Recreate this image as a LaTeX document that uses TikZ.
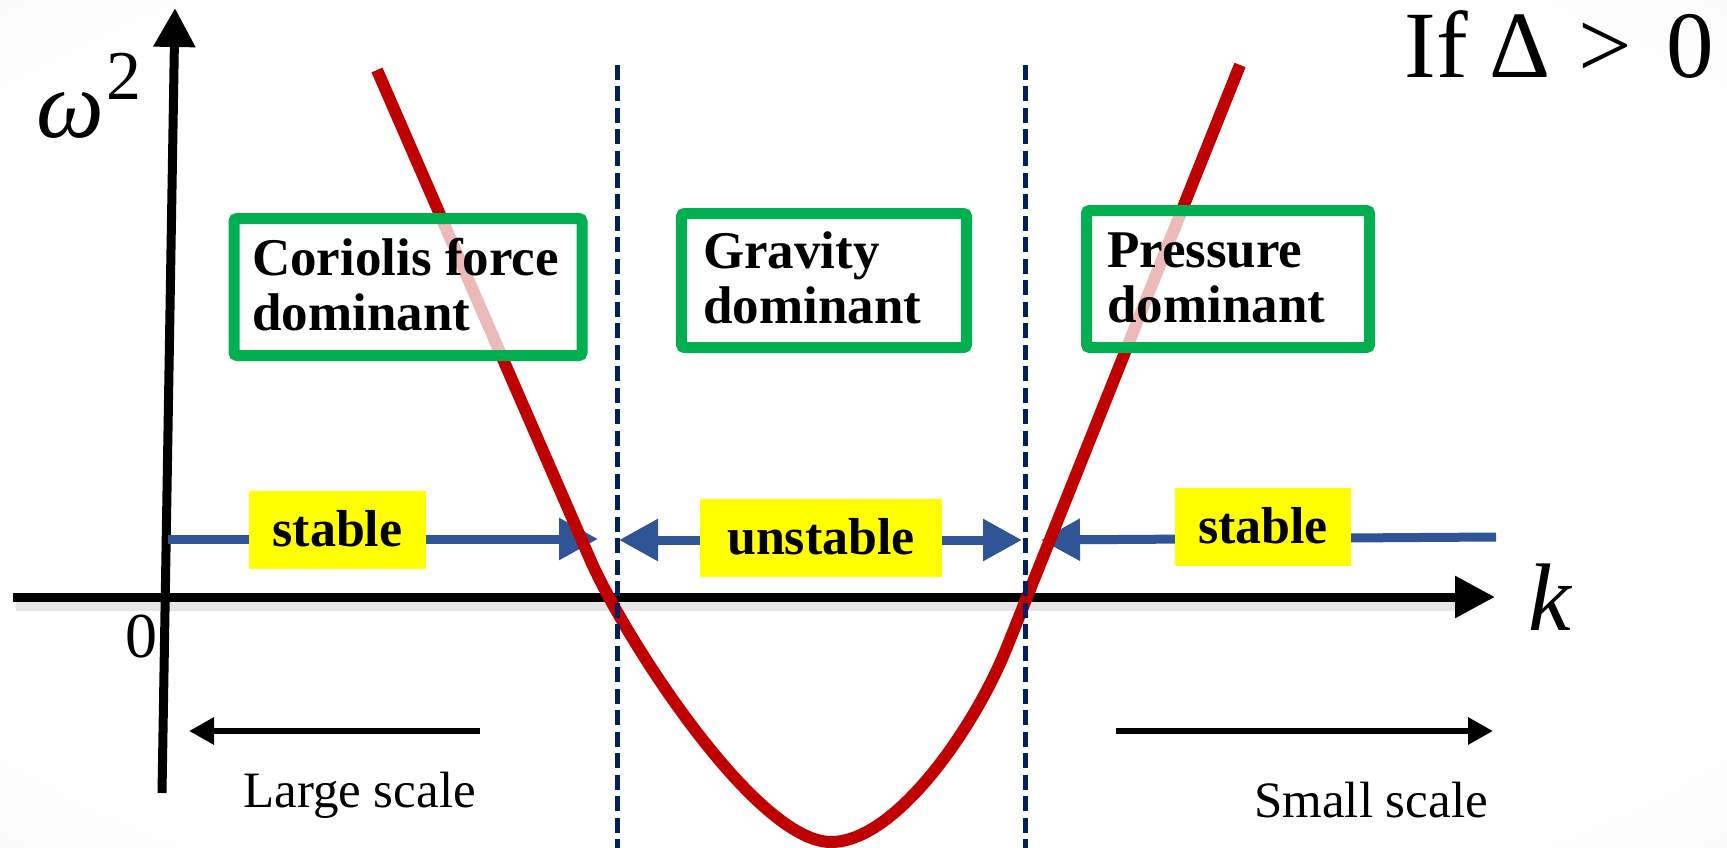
\documentclass[tikz,border=0pt]{standalone}
\usepackage{fontspec}
\setmainfont{Liberation Serif}
\usetikzlibrary{arrows.meta}
\definecolor{boxgreen}{RGB}{0,176,80}
\definecolor{curvered}{RGB}{192,0,0}
\definecolor{navyline}{RGB}{0,32,96}
\definecolor{arrowblue}{RGB}{47,85,151}
\definecolor{hlyellow}{RGB}{255,255,0}
\pgfdeclareradialshading{vign}{\pgfpoint{0bp}{0bp}}{color(0bp)=(white); color(30bp)=(white); color(50bp)=(black!6); color(71bp)=(black!15)}
\tikzset{bluetip/.tip={Triangle[length=39pt,width=40pt]}}
\begin{document}
\begin{tikzpicture}[x=1pt,y=-1pt,
  axisline/.style={line width=9pt, black},
  bluearrow/.style={line width=9pt, arrowblue},
  gbox/.style={draw=boxgreen, line width=11pt, fill=white, fill opacity=0.73, rounded corners=3pt, inner sep=0pt},
  ybox/.style={fill=hlyellow, inner sep=0pt},
  btxt/.style={font=\fontsize{53}{58}\selectfont\bfseries, inner sep=0pt, anchor=base west},
  ytxt/.style={font=\fontsize{52}{56}\selectfont\bfseries, inner sep=0pt, anchor=base},
  divline/.style={navyline, line width=5pt, dash pattern=on 15pt off 6.5pt},
  scalearrow/.style={line width=6pt, black, -{Triangle[length=25pt,width=26pt]}},
  lbl/.style={inner sep=0pt}]
\shade[shading=vign] (0,0) rectangle (1727,848);
\useasboundingbox (0,0) rectangle (1727,848);
% axes
\coordinate (hs) at (13,597);
\coordinate (he) at (1495,597);
\coordinate (vs) at (162,793);
\coordinate (ve) at (175,8);
\draw[line width=10pt, black, opacity=0.10] (16,606) -- (1470,606);
\draw[axisline, -{Triangle[length=40pt,width=40pt]}] (hs) -- (he);
\draw[axisline, -{Triangle[length=39pt,width=40pt]}] (vs) -- (ve);
% blue arrows
\coordinate (b1s) at (168,539);
\coordinate (b1e) at (598,539);
\coordinate (b2s) at (619,540);
\coordinate (b2e) at (1022,540);
\coordinate (b3s) at (1041,540);
\coordinate (b3e) at (1496,537);
\draw[bluearrow, -bluetip] (b1s) -- (b1e);
\draw[bluearrow, bluetip-bluetip] (b2s) -- (b2e);
\draw[bluearrow, bluetip-] (b3s) -- (b3e);
% yellow labels
\node[ybox, minimum width=177pt, minimum height=78pt] (y1) at (337.5,530) {};
\node[ybox, minimum width=242pt, minimum height=78pt] (y2) at (821,538) {};
\node[ybox, minimum width=176pt, minimum height=78pt] (y3) at (1263,527) {};
\node[ytxt] (t1) at (337.5,546) {stable};
\node[ytxt] (t2) at (821,554) {unstable};
\node[ytxt] (t3) at (1263,543) {stable};
% red curve
\draw[curvered, line width=12pt] (377,70) -- (590,559)
  .. controls (624.9,639) and (756,842) .. (831,842)
  .. controls (896,842) and (975,727) .. (1007,647) -- (1240,65);
% dashed division lines
\coordinate (d1t) at (617,65);
\coordinate (d1b) at (617,848);
\coordinate (d2t) at (1025,65);
\coordinate (d2b) at (1025,848);
\draw[divline] (d1t) -- (d1b);
\draw[divline] (d2t) -- (d2b);
% green boxes
\node[gbox, minimum width=348pt, minimum height=137pt] (g1) at (408,287) {};
\node[gbox, minimum width=285pt, minimum height=134pt] (g2) at (824,280.5) {};
\node[gbox, minimum width=283pt, minimum height=137pt] (g3) at (1228,279) {};
\node[btxt] (g1a) at (252,275) {Coriolis force};
\node[btxt] (g1b) at (252,330) {dominant};
\node[btxt] (g2a) at (703,268) {Gravity};
\node[btxt] (g2b) at (703,323) {dominant};
\node[btxt] (g3a) at (1107,267) {Pressure};
\node[btxt] (g3b) at (1107,322) {dominant};
% scale arrows
\coordinate (ls) at (480,731);
\coordinate (le) at (189,731);
\coordinate (ss) at (1116,731);
\coordinate (se) at (1493,731);
\draw[scalearrow] (ls) -- (le);
\draw[scalearrow] (ss) -- (se);
\node[lbl, anchor=base west, font=\fontsize{51}{56}\selectfont] (large) at (243,807) {Large scale};
\node[lbl, anchor=base west, font=\fontsize{51}{56}\selectfont] (small) at (1254,817) {Small scale};
% axis labels
\node[lbl, anchor=base east, font=\fontsize{64}{70}\selectfont] (zero) at (158,657) {0};
\node[lbl, anchor=base west, font=\fontsize{96}{100}\selectfont] (omega) at (36,138) {\itshape ω\hspace{3pt}\raisebox{0.4em}{\upshape\fontsize{70}{70}\selectfont 2}};
\node[lbl, anchor=base west, font=\fontsize{96}{100}\selectfont] (kay) at (1528,630) {\itshape k};
\node[lbl, anchor=base east, font=\fontsize{95}{100}\selectfont] (cond) at (1714,78) {If\hspace{22pt}Δ\hspace{28pt}>\hspace{34pt}0};
\end{tikzpicture}
\end{document}
